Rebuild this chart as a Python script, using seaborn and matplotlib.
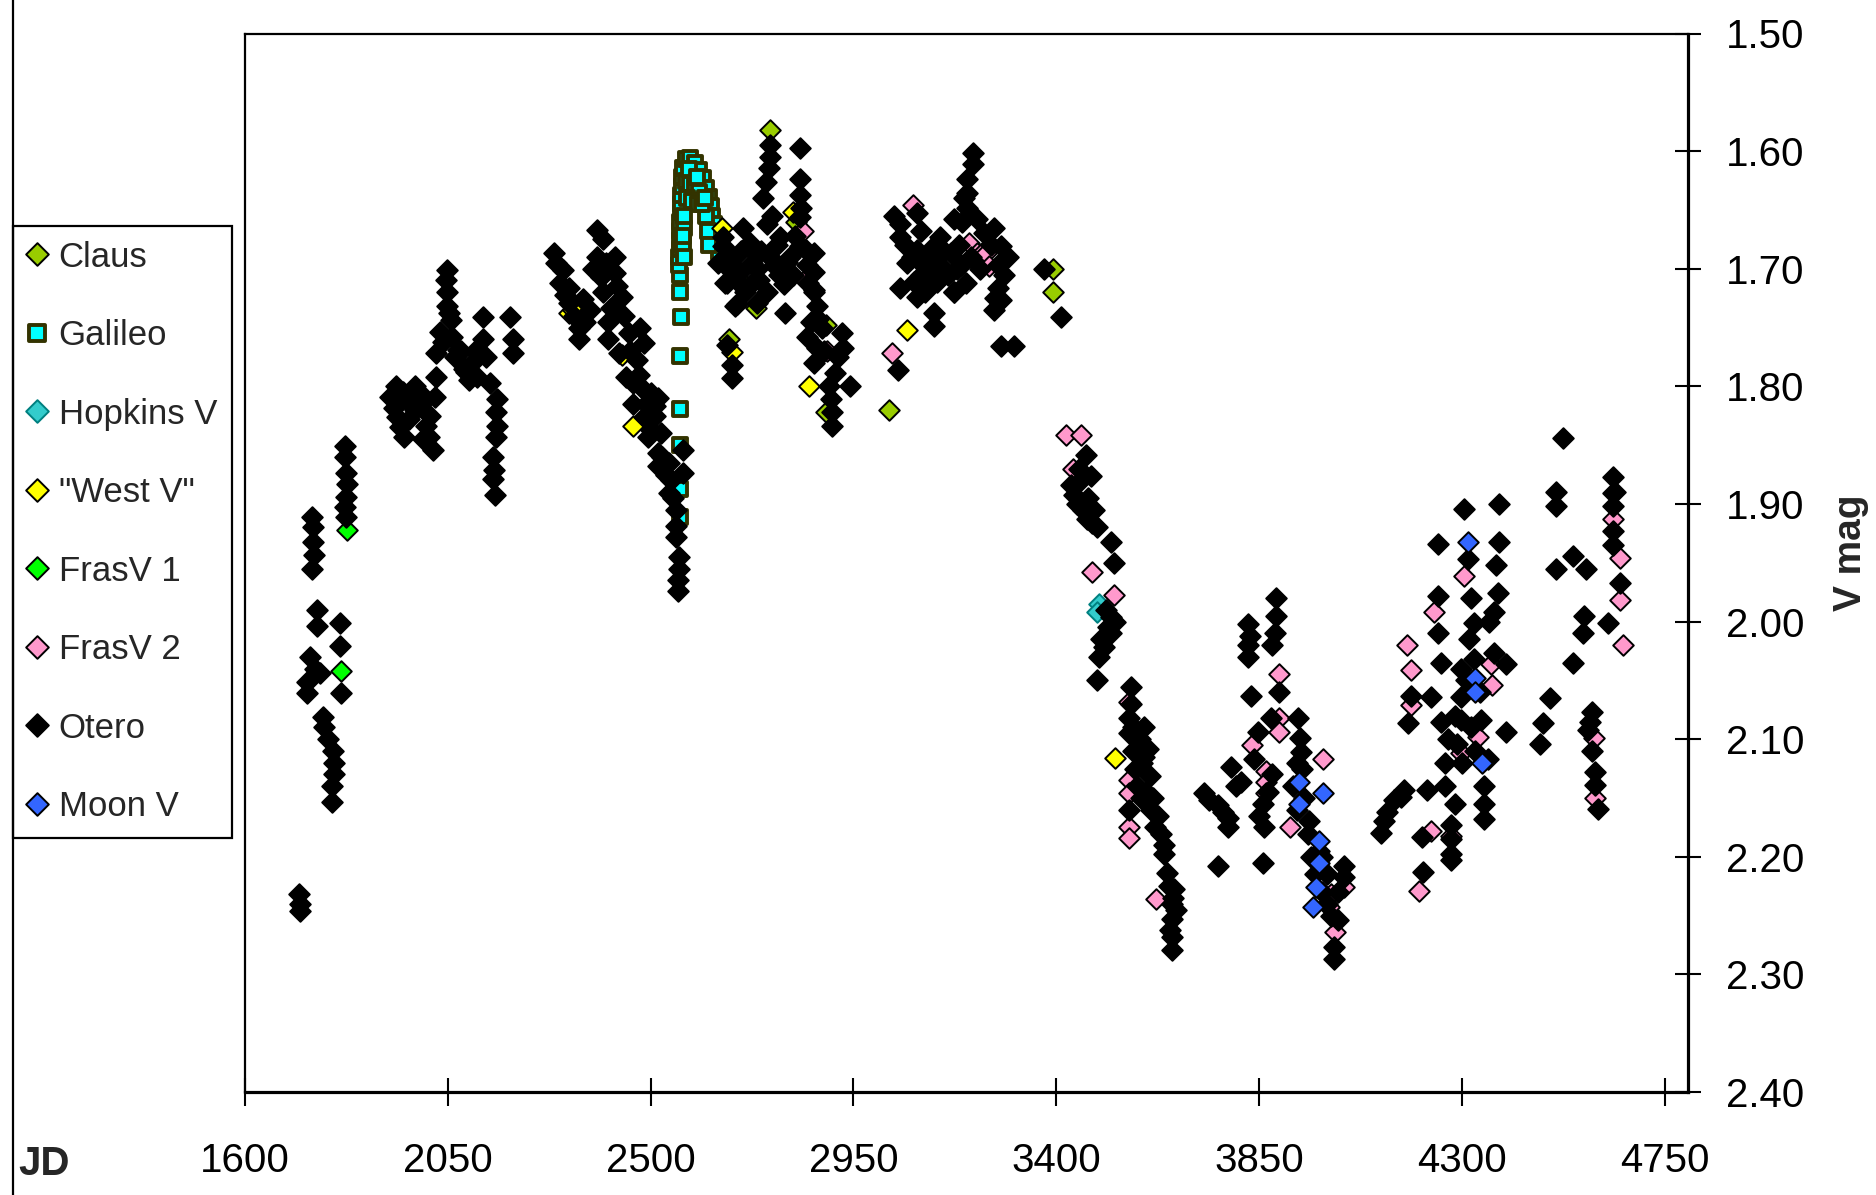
import matplotlib
matplotlib.use("Agg")
import matplotlib.pyplot as plt
import seaborn as sns
from matplotlib.lines import Line2D

sns.set_style("white")
plt.rcParams["font.family"] = ["Liberation Sans", "DejaVu Sans"]

# ---------------- data (JD, V mag) ----------------
claus = [(2764, 1.582), (2735, 1.733), (2674, 1.760), (2823, 1.660), (2889, 1.748),
         (2889, 1.822), (3030, 1.820), (3174, 1.720), (3394, 1.700), (3394, 1.720),
         (2705, 1.712)]

galileo = [(2565, 1.911), (2565, 1.887), (2566, 1.850), (2565, 1.819), (2566, 1.774),
           (2567, 1.741), (2566, 1.720), (2565, 1.705),
           (2563, 1.697), (2564, 1.690), (2565, 1.683), (2565, 1.676), (2566, 1.668),
           (2566, 1.660), (2567, 1.652), (2567, 1.645), (2568, 1.637), (2569, 1.630),
           (2570, 1.622), (2572, 1.614), (2572, 1.680), (2574, 1.665), (2575, 1.690),
           (2578, 1.607), (2588, 1.606), (2598, 1.610), (2608, 1.616), (2617, 1.623),
           (2624, 1.631), (2629, 1.639), (2633, 1.647), (2637, 1.655), (2641, 1.662),
           (2644, 1.670), (2648, 1.678), (2651, 1.686), (2624, 1.655), (2627, 1.668),
           (2630, 1.680),
           (2578, 1.625), (2588, 1.628), (2598, 1.630), (2608, 1.635), (2580, 1.640),
           (2592, 1.642), (2605, 1.645), (2615, 1.645), (2575, 1.655), (2585, 1.615),
           (2603, 1.622), (2572, 1.672), (2620, 1.640)]

hopkins = [(3495, 1.985), (3490, 1.992)]

west = [(2319, 1.738), (2327, 1.735), (2437, 1.773), (2461, 1.834), (2681, 1.771),
        (2851, 1.800), (3070, 1.752), (3530, 2.116), (2659, 1.665), (2815, 1.652)]

frasv1 = [(1826, 1.922), (1813, 2.042)]

frasv2 = [(2839, 1.668), (2862, 1.718), (2842, 1.710), (2892, 1.770), (3035, 1.772),
          (3083, 1.646), (3206, 1.678), (3225, 1.687), (3235, 1.687), (3245, 1.687),
          (3252, 1.698), (3421, 1.841), (3455, 1.841), (3437, 1.870), (3480, 1.958),
          (3528, 1.977), (3562, 2.068), (3562, 2.135), (3562, 2.146), (3562, 2.175),
          (3562, 2.184), (3621, 2.236), (3894, 2.045), (3894, 2.082), (3894, 2.094),
          (3835, 2.105), (3992, 2.117), (3865, 2.127), (3865, 2.136), (3865, 2.146),
          (3918, 2.175), (4039, 2.226), (4010, 2.232), (4005, 2.243), (4018, 2.264),
          (4635, 1.913), (4650, 1.946), (4650, 1.982), (4657, 2.020), (4593, 2.099),
          (4595, 2.150), (4306, 1.961), (4239, 1.992), (4178, 2.020), (4187, 2.041),
          (4365, 2.036), (4367, 2.054), (4187, 2.071), (4335, 2.098), (4298, 2.112),
          (4231, 2.178), (4276, 2.182), (4206, 2.229)]

otero = [
    # JD 1700-1860
    (1720, 2.232), (1721, 2.240), (1722, 2.246),
    (1748, 1.911), (1750, 1.920), (1750, 1.932), (1753, 1.943), (1748, 1.955),
    (1759, 1.990), (1759, 2.004), (1810, 2.001), (1810, 2.021),
    (1744, 2.030), (1766, 2.044), (1737, 2.051), (1737, 2.061), (1755, 2.040),
    (1812, 2.061), (1773, 2.081), (1775, 2.090), (1784, 2.100), (1795, 2.110),
    (1797, 2.120), (1797, 2.130), (1792, 2.140), (1792, 2.153),
    (1821, 1.851), (1821, 1.860), (1824, 1.874), (1826, 1.883), (1824, 1.894),
    (1821, 1.903), (1824, 1.911),
    # JD 1900-2200
    (1922, 1.809), (1977, 1.800), (2022, 1.809), (1938, 1.826), (1977, 1.820),
    (2001, 1.834), (1953, 1.843), (2008, 1.843), (2017, 1.854), (2024, 1.792),
    (1960, 1.812), (1990, 1.815), (1945, 1.835), (1965, 1.828), (1930, 1.818),
    (1935, 1.800), (1950, 1.805), (1995, 1.845), (1985, 1.805), (2010, 1.825),
    (2049, 1.701), (2049, 1.720), (2049, 1.732), (2057, 1.744), (2033, 1.754),
    (2024, 1.772), (2073, 1.769), (2104, 1.780), (2097, 1.795), (2128, 1.741),
    (2128, 1.760), (2135, 1.775), (2144, 1.797), (2188, 1.741), (2195, 1.760),
    (2195, 1.772), (2040, 1.762), (2060, 1.758), (2085, 1.785), (2115, 1.792),
    (2045, 1.710), (2052, 1.738), (2065, 1.775), (2080, 1.770), (2090, 1.788),
    (2110, 1.770),
    (2159, 1.811), (2157, 1.822), (2159, 1.834), (2157, 1.843), (2150, 1.860),
    (2153, 1.871), (2151, 1.879), (2155, 1.892),
    # JD 2270-2580
    (2381, 1.667), (2286, 1.687), (2306, 1.701), (2381, 1.690), (2390, 1.707),
    (2319, 1.716), (2319, 1.729), (2350, 1.726), (2421, 1.704), (2437, 1.724),
    (2413, 1.733), (2341, 1.750), (2341, 1.760), (2406, 1.745), (2406, 1.760),
    (2453, 1.755), (2477, 1.750), (2485, 1.763), (2430, 1.772), (2469, 1.778),
    (2446, 1.792), (2460, 1.797), (2485, 1.803), (2502, 1.806), (2509, 1.817),
    (2485, 1.826), (2502, 1.837), (2495, 1.843), (2517, 1.810), (2524, 1.840),
    (2517, 1.857), (2517, 1.868), (2541, 1.891), (2557, 1.905), (2557, 1.919),
    (2557, 1.928), (2564, 1.945), (2562, 1.955), (2561, 1.965), (2561, 1.974),
    (2573, 1.854), (2573, 1.874), (2330, 1.740), (2365, 1.735), (2395, 1.720),
    (2300, 1.712), (2460, 1.815), (2535, 1.875), (2545, 1.880),
    (2290, 1.695), (2310, 1.722), (2355, 1.745), (2372, 1.700), (2400, 1.695),
    (2425, 1.715), (2440, 1.740), (2455, 1.770), (2475, 1.790), (2490, 1.815),
    (2510, 1.825), (2525, 1.860), (2540, 1.865), (2550, 1.895), (2420, 1.690),
    (2395, 1.675),
    # JD 2640-3050
    (2764, 1.595), (2764, 1.605), (2762, 1.614), (2755, 1.626), (2832, 1.597),
    (2832, 1.624), (2832, 1.637), (2834, 1.648), (2832, 1.656),
    (2706, 1.665), (2759, 1.662), (2788, 1.673), (2714, 1.681), (2744, 1.685),
    (2832, 1.681), (2862, 1.687), (2684, 1.690), (2699, 1.703), (2737, 1.700),
    (2773, 1.697), (2803, 1.694), (2847, 1.697), (2862, 1.703), (2669, 1.712),
    (2722, 1.713), (2759, 1.720), (2795, 1.713), (2737, 1.729), (2692, 1.730),
    (2799, 1.738), (2862, 1.720), (2661, 1.673), (2661, 1.681), (2666, 1.712),
    (2688, 1.732), (2650, 1.695), (2780, 1.680), (2815, 1.705), (2725, 1.695),
    (2675, 1.700), (2700, 1.685), (2720, 1.678), (2740, 1.710), (2765, 1.690),
    (2785, 1.705), (2810, 1.690), (2820, 1.672), (2845, 1.684), (2850, 1.712),
    (2855, 1.745), (2885, 1.770), (2895, 1.800), (2710, 1.720), (2690, 1.710),
    (2750, 1.640), (2770, 1.655),
    (2681, 1.782), (2681, 1.793), (2670, 1.765),
    (2870, 1.732), (2872, 1.743), (2847, 1.758), (2870, 1.767), (2924, 1.755),
    (2926, 1.767), (2862, 1.780), (2909, 1.789), (2943, 1.800), (2900, 1.811),
    (2903, 1.822), (2903, 1.834), (2880, 1.750), (2915, 1.775), (3048, 1.786),
    # JD 3040-3420
    (3216, 1.602), (3216, 1.611), (3203, 1.624), (3203, 1.636), (3203, 1.648),
    (3225, 1.658), (3261, 1.665), (3277, 1.681), (3173, 1.658), (3143, 1.673),
    (3092, 1.653), (3054, 1.662), (3054, 1.673), (3100, 1.668), (3092, 1.684),
    (3129, 1.681), (3167, 1.687), (3070, 1.695), (3105, 1.697), (3143, 1.697),
    (3188, 1.697), (3270, 1.697), (3292, 1.690), (3084, 1.711), (3054, 1.716),
    (3092, 1.724), (3136, 1.711), (3173, 1.720), (3270, 1.716), (3277, 1.727),
    (3261, 1.735), (3129, 1.738), (3129, 1.749), (3277, 1.766), (3306, 1.766),
    (3160, 1.705), (3230, 1.700), (3110, 1.720), (3200, 1.712), (3040, 1.655),
    (3065, 1.680), (3080, 1.690), (3115, 1.690), (3150, 1.685), (3185, 1.680),
    (3210, 1.690), (3240, 1.670), (3255, 1.680), (3285, 1.705), (3265, 1.725),
    (3120, 1.705), (3195, 1.640), (3190, 1.660), (3180, 1.700), (3100, 1.705),
    (3373, 1.700), (3410, 1.741),
    # JD 3430-3700
    (3466, 1.858), (3477, 1.876), (3432, 1.884), (3447, 1.900), (3469, 1.913),
    (3491, 1.920), (3450, 1.870), (3440, 1.892), (3460, 1.905), (3480, 1.916),
    (3455, 1.880), (3470, 1.895), (3485, 1.905), (3510, 1.990), (3530, 2.000),
    (3522, 1.932), (3528, 1.950), (3522, 1.996), (3522, 2.010), (3506, 2.022),
    (3494, 2.030), (3515, 2.005), (3500, 2.015), (3491, 2.050),
    (3566, 2.056), (3562, 2.082), (3595, 2.090), (3562, 2.095), (3603, 2.108),
    (3609, 2.131), (3588, 2.150), (3625, 2.165), (3562, 2.160), (3632, 2.181),
    (3570, 2.110), (3575, 2.125), (3580, 2.140), (3600, 2.145), (3610, 2.160),
    (3590, 2.120), (3565, 2.070), (3570, 2.090), (3585, 2.100), (3595, 2.115),
    (3615, 2.150), (3620, 2.175), (3640, 2.190),
    (3639, 2.198), (3647, 2.214), (3661, 2.227), (3657, 2.240), (3657, 2.253),
    (3657, 2.268), (3657, 2.279), (3650, 2.225), (3665, 2.245), (3660, 2.235),
    (3652, 2.262),
    # JD 3720-4060
    (3728, 2.146), (3758, 2.156), (3781, 2.167), (3781, 2.175), (3758, 2.208),
    (3740, 2.152), (3770, 2.162), (3788, 2.124), (3810, 2.136), (3800, 2.140),
    (3825, 2.002), (3825, 2.020), (3825, 2.030), (3888, 1.980), (3888, 1.995),
    (3885, 2.010), (3880, 2.020), (3833, 2.063), (3894, 2.060), (3830, 2.012),
    (3876, 2.082), (3936, 2.082), (3847, 2.094), (3940, 2.099), (3943, 2.111),
    (3838, 2.117), (3880, 2.130), (3858, 2.155), (3862, 2.175), (3934, 2.160),
    (3925, 2.140), (3945, 2.125), (3870, 2.145), (3850, 2.165), (3935, 2.120),
    (3958, 2.181), (3984, 2.195), (4039, 2.208), (4039, 2.217), (4025, 2.254),
    (4016, 2.277), (4016, 2.287), (3965, 2.200), (3975, 2.215), (3990, 2.230),
    (4000, 2.240), (4010, 2.250), (3960, 2.170), (3950, 2.150), (3859, 2.205),
    (3990, 2.200), (4000, 2.215), (4025, 2.230),
    # JD 4100-4660
    (4524, 1.844),
    (4635, 1.877), (4635, 1.891), (4635, 1.902), (4635, 1.923), (4635, 1.935),
    (4650, 1.967), (4625, 2.001), (4572, 1.995), (4569, 2.010), (4640, 1.890),
    (4509, 1.890), (4509, 1.902), (4547, 1.944), (4509, 1.955), (4575, 1.955),
    (4547, 2.035), (4495, 2.065), (4480, 2.086), (4473, 2.104),
    (4588, 2.077), (4580, 2.092), (4588, 2.110), (4595, 2.128), (4595, 2.139),
    (4602, 2.159), (4585, 2.085),
    (4306, 1.904), (4383, 1.900), (4247, 1.934), (4383, 1.932), (4314, 1.947),
    (4376, 1.952), (4247, 1.978), (4321, 1.980), (4380, 1.976), (4247, 2.010),
    (4327, 2.001), (4372, 1.992), (4254, 2.035), (4298, 2.040), (4327, 2.032),
    (4372, 2.027), (4399, 2.036), (4187, 2.063), (4231, 2.064), (4298, 2.064),
    (4180, 2.086), (4254, 2.085), (4298, 2.084), (4343, 2.084), (4399, 2.094),
    (4290, 2.104), (4263, 2.120), (4358, 2.117), (4165, 2.149), (4223, 2.143),
    (4263, 2.140), (4285, 2.155), (4350, 2.140), (4350, 2.155), (4350, 2.168),
    (4128, 2.170), (4120, 2.180), (4150, 2.152), (4172, 2.143), (4135, 2.162),
    (4212, 2.183), (4276, 2.173), (4276, 2.185), (4276, 2.198), (4276, 2.203),
    (4213, 2.213), (4310, 2.050), (4340, 2.060), (4320, 2.090), (4300, 2.120),
    (4285, 2.080), (4315, 2.015), (4360, 2.000), (4270, 2.100), (4330, 2.110),
]

moon = [(3939, 2.136), (3992, 2.146), (3939, 2.155), (3984, 2.187), (3984, 2.205),
        (3976, 2.226), (3969, 2.243), (4314, 1.932), (4330, 2.048), (4330, 2.060),
        (4345, 2.120)]

series_names = ["Claus", "Galileo", "Hopkins V", '"West V"', "FrasV 1", "FrasV 2",
                "Otero", "Moon V"]
series_data = [claus, galileo, hopkins, west, frasv1, frasv2, otero, moon]
face_colors = ["#99CC00", "#00FFFF", "#33CCCC", "#FFFF00", "#00FF00", "#FF99CC",
               "#000000", "#3366FF"]
edge_colors = ["#000000", "#333300", "#008080", "#000000", "#000000", "#000000",
               "#000000", "#000000"]
marker_kinds = ["D", "s", "D", "D", "D", "D", "D", "D"]

x_ticks = [1600, 2050, 2500, 2950, 3400, 3850, 4300, 4750]
y_ticks = [1.50, 1.60, 1.70, 1.80, 1.90, 2.00, 2.10, 2.20, 2.30, 2.40]

# ---------------- figure ----------------
W, H = 1876, 1195
fig = plt.figure(figsize=(W / 100, H / 100), dpi=100)
fig.patch.set_facecolor("white")
ax_l, ax_r, ax_t, ax_b = 245, 1688, 33.5, 1092
ax = fig.add_axes([ax_l / W, 1 - ax_b / H, (ax_r - ax_l) / W, (ax_b - ax_t) / H])
ax.set_facecolor("white")

for i, (name, pts, fc, ec, mk) in enumerate(zip(series_names, series_data, face_colors,
                                                 edge_colors, marker_kinds)):
    xs = [p[0] for p in pts]
    ys = [p[1] for p in pts]
    sns.scatterplot(x=xs, y=ys, ax=ax, color=fc, edgecolor=ec, marker=mk,
                    s=110 if mk == "D" else 115,
                    linewidth=1.4 if mk == "D" else 2.8, label=name,
                    zorder=3 + i, clip_on=True)

ax.set_xlim(1600, 4802)
ax.set_ylim(2.40, 1.50)
ax.set_xticks(x_ticks)
ax.set_xticklabels([str(v) for v in x_ticks])
ax.set_yticks(y_ticks)
ax.set_yticklabels([f"{v:.2f}" for v in y_ticks])

ax.yaxis.tick_right()
ax.yaxis.set_label_position("right")
ax.tick_params(axis="y", which="major", direction="inout", length=19, width=1.5,
               pad=18, labelsize=29, right=True, left=False, labelright=True,
               labelleft=False, colors="black")
ax.tick_params(axis="x", which="major", direction="inout", length=20, width=1.5,
               pad=26, labelsize=29, bottom=True, top=False, colors="black")

for side in ["top", "left"]:
    ax.spines[side].set_linewidth(1.6)
    ax.spines[side].set_color("black")
for side in ["right", "bottom"]:
    ax.spines[side].set_linewidth(2.3)
    ax.spines[side].set_color("black")
ax.grid(False)

# axis titles
ax.set_xlabel("JD", fontsize=29, fontweight="bold")
ax.xaxis.set_label_coords((18 - ax_l) / (ax_r - ax_l), -(1175 - ax_b) / (ax_b - ax_t))
ax.xaxis.label.set_ha("left")
ax.xaxis.label.set_va("baseline")

ax.set_ylabel("V mag", fontsize=28, fontweight="bold", rotation=90)
ax.yaxis.set_label_coords((1851 - ax_l) / (ax_r - ax_l), (ax_b - 553) / (ax_b - ax_t))
ax.yaxis.label.set_ha("center")
ax.yaxis.label.set_va("center")

# legend
handles, labels = ax.get_legend_handles_labels()
leg = ax.legend(handles, labels, loc="upper left",
                bbox_to_anchor=(12.5 / W, 1 - 226 / H), bbox_transform=fig.transFigure,
                frameon=True, fancybox=False, shadow=False, framealpha=1,
                edgecolor="black", borderpad=0.42, labelspacing=1.31,
                handlelength=0.55, handletextpad=0.36, borderaxespad=0,
                fontsize=25, scatterpoints=1, scatteryoffsets=[0.5],
                markerscale=1.1)
leg.get_frame().set_linewidth(1.6)

# chart-area border on the far left
fig.add_artist(Line2D([12.5 / W, 12.5 / W], [0, 1], transform=fig.transFigure,
                      color="black", linewidth=1.6))

fig.savefig("out.png", dpi=100, facecolor="white")
